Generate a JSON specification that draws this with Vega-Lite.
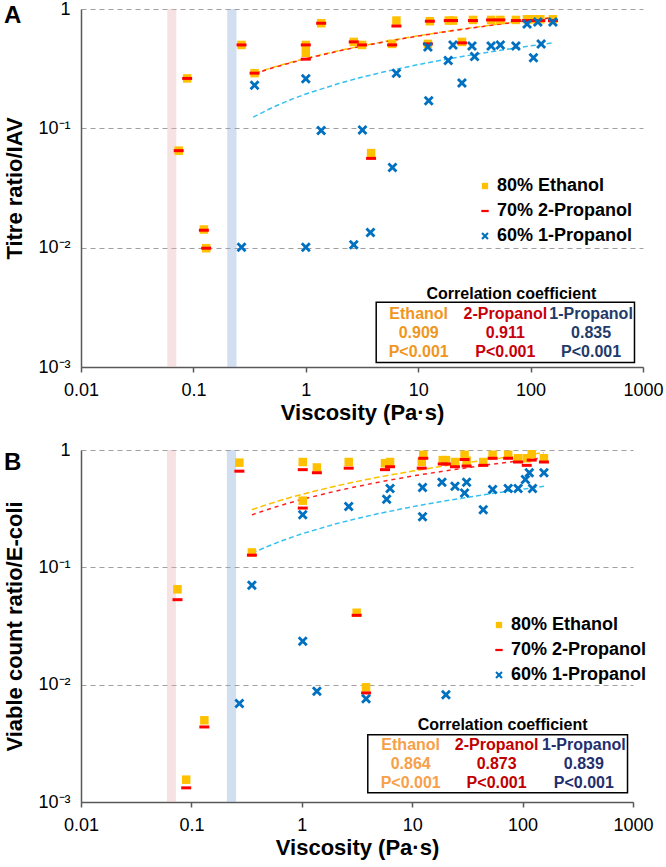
{
  "$schema": "https://vega.github.io/schema/vega-lite/v6.json",
  "padding": {"left": 3, "top": 0, "right": 3, "bottom": 3},
  "config": {
    "font": "Liberation Sans",
    "view": {"stroke": null},
    "axis": {"domainColor": "#595959", "domainWidth": 1.5, "labelColor": "#000000", "titleColor": "#000000", "labelFont": "Liberation Sans", "titleFont": "Liberation Sans"},
    "title": {"font": "Liberation Sans"},
    "legend": {"labelFont": "Liberation Sans"}
  },
  "resolve": {"scale": {"color": "independent", "shape": "independent"}, "legend": {"color": "independent", "shape": "independent"}},
  "datasets": {
    "pointsA": [
      {"v": 0.074, "r": 0.065, "series": "80% Ethanol"},
      {"v": 0.088, "r": 0.262, "series": "80% Ethanol"},
      {"v": 0.124, "r": 0.0142, "series": "80% Ethanol"},
      {"v": 0.13, "r": 0.0099, "series": "80% Ethanol"},
      {"v": 0.268, "r": 0.5, "series": "80% Ethanol"},
      {"v": 0.35, "r": 0.29, "series": "80% Ethanol"},
      {"v": 1.0, "r": 0.5, "series": "80% Ethanol"},
      {"v": 1.0, "r": 0.43, "series": "80% Ethanol"},
      {"v": 1.37, "r": 0.76, "series": "80% Ethanol"},
      {"v": 2.67, "r": 0.53, "series": "80% Ethanol"},
      {"v": 3.17, "r": 0.5, "series": "80% Ethanol"},
      {"v": 3.81, "r": 0.062, "series": "80% Ethanol"},
      {"v": 5.86, "r": 0.51, "series": "80% Ethanol"},
      {"v": 6.4, "r": 0.8, "series": "80% Ethanol"},
      {"v": 12.2, "r": 0.51, "series": "80% Ethanol"},
      {"v": 12.7, "r": 0.79, "series": "80% Ethanol"},
      {"v": 18.7, "r": 0.8, "series": "80% Ethanol"},
      {"v": 20.4, "r": 0.8, "series": "80% Ethanol"},
      {"v": 24.5, "r": 0.53, "series": "80% Ethanol"},
      {"v": 30.7, "r": 0.81, "series": "80% Ethanol"},
      {"v": 44.5, "r": 0.81, "series": "80% Ethanol"},
      {"v": 53.8, "r": 0.81, "series": "80% Ethanol"},
      {"v": 74, "r": 0.81, "series": "80% Ethanol"},
      {"v": 92.9, "r": 0.82, "series": "80% Ethanol"},
      {"v": 105, "r": 0.82, "series": "80% Ethanol"},
      {"v": 122, "r": 0.82, "series": "80% Ethanol"},
      {"v": 158, "r": 0.82, "series": "80% Ethanol"},
      {"v": 0.074, "r": 0.065, "series": "70% 2-Propanol"},
      {"v": 0.088, "r": 0.262, "series": "70% 2-Propanol"},
      {"v": 0.124, "r": 0.014, "series": "70% 2-Propanol"},
      {"v": 0.13, "r": 0.0099, "series": "70% 2-Propanol"},
      {"v": 0.268, "r": 0.5, "series": "70% 2-Propanol"},
      {"v": 0.35, "r": 0.29, "series": "70% 2-Propanol"},
      {"v": 1.0, "r": 0.5, "series": "70% 2-Propanol"},
      {"v": 1.0, "r": 0.38, "series": "70% 2-Propanol"},
      {"v": 1.37, "r": 0.76, "series": "70% 2-Propanol"},
      {"v": 2.67, "r": 0.53, "series": "70% 2-Propanol"},
      {"v": 3.17, "r": 0.5, "series": "70% 2-Propanol"},
      {"v": 3.81, "r": 0.056, "series": "70% 2-Propanol"},
      {"v": 5.86, "r": 0.5, "series": "70% 2-Propanol"},
      {"v": 6.4, "r": 0.72, "series": "70% 2-Propanol"},
      {"v": 12.2, "r": 0.51, "series": "70% 2-Propanol"},
      {"v": 12.7, "r": 0.79, "series": "70% 2-Propanol"},
      {"v": 18.7, "r": 0.8, "series": "70% 2-Propanol"},
      {"v": 20.4, "r": 0.8, "series": "70% 2-Propanol"},
      {"v": 24.5, "r": 0.52, "series": "70% 2-Propanol"},
      {"v": 30.7, "r": 0.8, "series": "70% 2-Propanol"},
      {"v": 44.5, "r": 0.81, "series": "70% 2-Propanol"},
      {"v": 53.8, "r": 0.81, "series": "70% 2-Propanol"},
      {"v": 74, "r": 0.8, "series": "70% 2-Propanol"},
      {"v": 92.9, "r": 0.8, "series": "70% 2-Propanol"},
      {"v": 105, "r": 0.8, "series": "70% 2-Propanol"},
      {"v": 122, "r": 0.8, "series": "70% 2-Propanol"},
      {"v": 158, "r": 0.8, "series": "70% 2-Propanol"},
      {"v": 0.268, "r": 0.0101, "series": "60% 1-Propanol"},
      {"v": 0.35, "r": 0.23, "series": "60% 1-Propanol"},
      {"v": 1.0, "r": 0.26, "series": "60% 1-Propanol"},
      {"v": 1.0, "r": 0.0101, "series": "60% 1-Propanol"},
      {"v": 1.37, "r": 0.096, "series": "60% 1-Propanol"},
      {"v": 2.67, "r": 0.0106, "series": "60% 1-Propanol"},
      {"v": 3.19, "r": 0.097, "series": "60% 1-Propanol"},
      {"v": 3.76, "r": 0.0134, "series": "60% 1-Propanol"},
      {"v": 5.9, "r": 0.047, "series": "60% 1-Propanol"},
      {"v": 6.4, "r": 0.29, "series": "60% 1-Propanol"},
      {"v": 12.2, "r": 0.48, "series": "60% 1-Propanol"},
      {"v": 12.4, "r": 0.17, "series": "60% 1-Propanol"},
      {"v": 18.5, "r": 0.37, "series": "60% 1-Propanol"},
      {"v": 20.4, "r": 0.5, "series": "60% 1-Propanol"},
      {"v": 24.5, "r": 0.24, "series": "60% 1-Propanol"},
      {"v": 30.1, "r": 0.49, "series": "60% 1-Propanol"},
      {"v": 31.7, "r": 0.4, "series": "60% 1-Propanol"},
      {"v": 44.5, "r": 0.49, "series": "60% 1-Propanol"},
      {"v": 53.8, "r": 0.5, "series": "60% 1-Propanol"},
      {"v": 74, "r": 0.49, "series": "60% 1-Propanol"},
      {"v": 92.9, "r": 0.75, "series": "60% 1-Propanol"},
      {"v": 106, "r": 0.39, "series": "60% 1-Propanol"},
      {"v": 116, "r": 0.78, "series": "60% 1-Propanol"},
      {"v": 124, "r": 0.51, "series": "60% 1-Propanol"},
      {"v": 158, "r": 0.78, "series": "60% 1-Propanol"}
    ],
    "pointsB": [
      {"v": 0.0748, "r": 0.065, "series": "80% Ethanol"},
      {"v": 0.0897, "r": 0.00155, "series": "80% Ethanol"},
      {"v": 0.131, "r": 0.00497, "series": "80% Ethanol"},
      {"v": 0.272, "r": 0.78, "series": "80% Ethanol"},
      {"v": 0.353, "r": 0.134, "series": "80% Ethanol"},
      {"v": 1.02, "r": 0.79, "series": "80% Ethanol"},
      {"v": 1.02, "r": 0.37, "series": "80% Ethanol"},
      {"v": 1.37, "r": 0.71, "series": "80% Ethanol"},
      {"v": 2.66, "r": 0.79, "series": "80% Ethanol"},
      {"v": 3.14, "r": 0.041, "series": "80% Ethanol"},
      {"v": 3.82, "r": 0.0095, "series": "80% Ethanol"},
      {"v": 5.67, "r": 0.77, "series": "80% Ethanol"},
      {"v": 6.3, "r": 0.79, "series": "80% Ethanol"},
      {"v": 12.2, "r": 0.79, "series": "80% Ethanol"},
      {"v": 12.6, "r": 0.91, "series": "80% Ethanol"},
      {"v": 18.9, "r": 0.82, "series": "80% Ethanol"},
      {"v": 20.2, "r": 0.82, "series": "80% Ethanol"},
      {"v": 24.4, "r": 0.79, "series": "80% Ethanol"},
      {"v": 29.8, "r": 0.91, "series": "80% Ethanol"},
      {"v": 31.1, "r": 0.81, "series": "80% Ethanol"},
      {"v": 44, "r": 0.79, "series": "80% Ethanol"},
      {"v": 53.5, "r": 0.91, "series": "80% Ethanol"},
      {"v": 74, "r": 0.91, "series": "80% Ethanol"},
      {"v": 91, "r": 0.85, "series": "80% Ethanol"},
      {"v": 109, "r": 0.85, "series": "80% Ethanol"},
      {"v": 121, "r": 0.92, "series": "80% Ethanol"},
      {"v": 156, "r": 0.85, "series": "80% Ethanol"},
      {"v": 0.0748, "r": 0.053, "series": "70% 2-Propanol"},
      {"v": 0.0897, "r": 0.00132, "series": "70% 2-Propanol"},
      {"v": 0.131, "r": 0.00436, "series": "70% 2-Propanol"},
      {"v": 0.272, "r": 0.66, "series": "70% 2-Propanol"},
      {"v": 0.353, "r": 0.127, "series": "70% 2-Propanol"},
      {"v": 1.02, "r": 0.68, "series": "70% 2-Propanol"},
      {"v": 1.02, "r": 0.32, "series": "70% 2-Propanol"},
      {"v": 1.37, "r": 0.64, "series": "70% 2-Propanol"},
      {"v": 2.66, "r": 0.7, "series": "70% 2-Propanol"},
      {"v": 3.14, "r": 0.039, "series": "70% 2-Propanol"},
      {"v": 3.82, "r": 0.0085, "series": "70% 2-Propanol"},
      {"v": 5.67, "r": 0.68, "series": "70% 2-Propanol"},
      {"v": 6.3, "r": 0.72, "series": "70% 2-Propanol"},
      {"v": 12.2, "r": 0.7, "series": "70% 2-Propanol"},
      {"v": 12.6, "r": 0.85, "series": "70% 2-Propanol"},
      {"v": 18.9, "r": 0.76, "series": "70% 2-Propanol"},
      {"v": 20.2, "r": 0.76, "series": "70% 2-Propanol"},
      {"v": 24.4, "r": 0.72, "series": "70% 2-Propanol"},
      {"v": 29.8, "r": 0.83, "series": "70% 2-Propanol"},
      {"v": 31.1, "r": 0.73, "series": "70% 2-Propanol"},
      {"v": 44, "r": 0.74, "series": "70% 2-Propanol"},
      {"v": 53.5, "r": 0.85, "series": "70% 2-Propanol"},
      {"v": 74, "r": 0.85, "series": "70% 2-Propanol"},
      {"v": 91, "r": 0.79, "series": "70% 2-Propanol"},
      {"v": 109, "r": 0.74, "series": "70% 2-Propanol"},
      {"v": 121, "r": 0.82, "series": "70% 2-Propanol"},
      {"v": 156, "r": 0.79, "series": "70% 2-Propanol"},
      {"v": 0.272, "r": 0.0069, "series": "60% 1-Propanol"},
      {"v": 0.353, "r": 0.0705, "series": "60% 1-Propanol"},
      {"v": 1.02, "r": 0.28, "series": "60% 1-Propanol"},
      {"v": 1.02, "r": 0.0234, "series": "60% 1-Propanol"},
      {"v": 1.37, "r": 0.0088, "series": "60% 1-Propanol"},
      {"v": 2.66, "r": 0.33, "series": "60% 1-Propanol"},
      {"v": 3.82, "r": 0.0076, "series": "60% 1-Propanol"},
      {"v": 5.87, "r": 0.38, "series": "60% 1-Propanol"},
      {"v": 6.3, "r": 0.47, "series": "60% 1-Propanol"},
      {"v": 12.4, "r": 0.48, "series": "60% 1-Propanol"},
      {"v": 12.4, "r": 0.27, "series": "60% 1-Propanol"},
      {"v": 18.6, "r": 0.53, "series": "60% 1-Propanol"},
      {"v": 20.2, "r": 0.0082, "series": "60% 1-Propanol"},
      {"v": 24.4, "r": 0.49, "series": "60% 1-Propanol"},
      {"v": 29.8, "r": 0.43, "series": "60% 1-Propanol"},
      {"v": 31.1, "r": 0.53, "series": "60% 1-Propanol"},
      {"v": 44, "r": 0.31, "series": "60% 1-Propanol"},
      {"v": 53.5, "r": 0.46, "series": "60% 1-Propanol"},
      {"v": 74, "r": 0.47, "series": "60% 1-Propanol"},
      {"v": 91, "r": 0.47, "series": "60% 1-Propanol"},
      {"v": 106, "r": 0.56, "series": "60% 1-Propanol"},
      {"v": 115, "r": 0.64, "series": "60% 1-Propanol"},
      {"v": 123, "r": 0.47, "series": "60% 1-Propanol"},
      {"v": 156, "r": 0.64, "series": "60% 1-Propanol"}
    ],
    "fitA": [
      {"v": 0.35, "r": 0.29, "series": "Ethanol"},
      {"v": 0.5, "r": 0.3225, "series": "Ethanol"},
      {"v": 0.7, "r": 0.3533, "series": "Ethanol"},
      {"v": 1, "r": 0.386, "series": "Ethanol"},
      {"v": 2, "r": 0.4495, "series": "Ethanol"},
      {"v": 3, "r": 0.4866, "series": "Ethanol"},
      {"v": 5, "r": 0.5334, "series": "Ethanol"},
      {"v": 10, "r": 0.5969, "series": "Ethanol"},
      {"v": 20, "r": 0.6604, "series": "Ethanol"},
      {"v": 50, "r": 0.7443, "series": "Ethanol"},
      {"v": 100, "r": 0.8078, "series": "Ethanol"},
      {"v": 158, "r": 0.8497, "series": "Ethanol"},
      {"v": 0.35, "r": 0.287, "series": "2-Propanol"},
      {"v": 0.5, "r": 0.32, "series": "2-Propanol"},
      {"v": 0.7, "r": 0.35, "series": "2-Propanol"},
      {"v": 1, "r": 0.383, "series": "2-Propanol"},
      {"v": 2, "r": 0.446, "series": "2-Propanol"},
      {"v": 3, "r": 0.484, "series": "2-Propanol"},
      {"v": 5, "r": 0.53, "series": "2-Propanol"},
      {"v": 10, "r": 0.594, "series": "2-Propanol"},
      {"v": 20, "r": 0.657, "series": "2-Propanol"},
      {"v": 50, "r": 0.741, "series": "2-Propanol"},
      {"v": 100, "r": 0.804, "series": "2-Propanol"},
      {"v": 158, "r": 0.846, "series": "2-Propanol"},
      {"v": 0.34, "r": 0.124, "series": "1-Propanol"},
      {"v": 0.5, "r": 0.149, "series": "1-Propanol"},
      {"v": 0.7, "r": 0.171, "series": "1-Propanol"},
      {"v": 1, "r": 0.194, "series": "1-Propanol"},
      {"v": 2, "r": 0.2387, "series": "1-Propanol"},
      {"v": 3, "r": 0.2649, "series": "1-Propanol"},
      {"v": 5, "r": 0.2978, "series": "1-Propanol"},
      {"v": 10, "r": 0.3425, "series": "1-Propanol"},
      {"v": 20, "r": 0.3872, "series": "1-Propanol"},
      {"v": 50, "r": 0.4463, "series": "1-Propanol"},
      {"v": 100, "r": 0.491, "series": "1-Propanol"},
      {"v": 158, "r": 0.5205, "series": "1-Propanol"}
    ],
    "fitB": [
      {"v": 0.353, "r": 0.31, "series": "Ethanol"},
      {"v": 0.5, "r": 0.346, "series": "Ethanol"},
      {"v": 0.7, "r": 0.3815, "series": "Ethanol"},
      {"v": 1, "r": 0.419, "series": "Ethanol"},
      {"v": 2, "r": 0.4918, "series": "Ethanol"},
      {"v": 3, "r": 0.5344, "series": "Ethanol"},
      {"v": 5, "r": 0.588, "series": "Ethanol"},
      {"v": 10, "r": 0.6608, "series": "Ethanol"},
      {"v": 20, "r": 0.7336, "series": "Ethanol"},
      {"v": 50, "r": 0.8298, "series": "Ethanol"},
      {"v": 100, "r": 0.9025, "series": "Ethanol"},
      {"v": 156, "r": 0.949, "series": "Ethanol"},
      {"v": 0.353, "r": 0.28, "series": "2-Propanol"},
      {"v": 0.5, "r": 0.313, "series": "2-Propanol"},
      {"v": 0.7, "r": 0.345, "series": "2-Propanol"},
      {"v": 1, "r": 0.379, "series": "2-Propanol"},
      {"v": 2, "r": 0.445, "series": "2-Propanol"},
      {"v": 3, "r": 0.4836, "series": "2-Propanol"},
      {"v": 5, "r": 0.5322, "series": "2-Propanol"},
      {"v": 10, "r": 0.6002, "series": "2-Propanol"},
      {"v": 20, "r": 0.6642, "series": "2-Propanol"},
      {"v": 50, "r": 0.7514, "series": "2-Propanol"},
      {"v": 100, "r": 0.8174, "series": "2-Propanol"},
      {"v": 156, "r": 0.8598, "series": "2-Propanol"},
      {"v": 0.353, "r": 0.132, "series": "1-Propanol"},
      {"v": 0.5, "r": 0.152, "series": "1-Propanol"},
      {"v": 0.7, "r": 0.172, "series": "1-Propanol"},
      {"v": 1, "r": 0.193, "series": "1-Propanol"},
      {"v": 2, "r": 0.2338, "series": "1-Propanol"},
      {"v": 3, "r": 0.2576, "series": "1-Propanol"},
      {"v": 5, "r": 0.2876, "series": "1-Propanol"},
      {"v": 10, "r": 0.3284, "series": "1-Propanol"},
      {"v": 20, "r": 0.3691, "series": "1-Propanol"},
      {"v": 50, "r": 0.423, "series": "1-Propanol"},
      {"v": 100, "r": 0.4638, "series": "1-Propanol"},
      {"v": 156, "r": 0.4899, "series": "1-Propanol"}
    ],
    "bandsA": [
      {"v": 0.0586, "v2": 0.0705, "band": "pink"},
      {"v": 0.2, "v2": 0.242, "band": "blue"}
    ],
    "bandsB": [
      {"v": 0.06, "v2": 0.0724, "band": "pink"},
      {"v": 0.2095, "v2": 0.254, "band": "blue"}
    ],
    "boxA": [{"v": 4.23, "v2": 840, "r": 0.00109, "r2": 0.00348}],
    "boxB": [{"v": 3.96, "v2": 892, "r": 0.0012, "r2": 0.00375}],
    "tableA": [
      {"v": 67.5, "r": 0.00408, "text": "Correlation coefficient", "col": "title"},
      {"v": 10.1, "r": 0.00278, "text": "Ethanol", "col": "Ethanol"},
      {"v": 59.6, "r": 0.00278, "text": "2-Propanol", "col": "2-Propanol"},
      {"v": 345, "r": 0.00278, "text": "1-Propanol", "col": "1-Propanol"},
      {"v": 10.1, "r": 0.00192, "text": "0.909", "col": "Ethanol"},
      {"v": 59.6, "r": 0.00192, "text": "0.911", "col": "2-Propanol"},
      {"v": 345, "r": 0.00192, "text": "0.835", "col": "1-Propanol"},
      {"v": 10.1, "r": 0.00133, "text": "P<0.001", "col": "Ethanol"},
      {"v": 59.6, "r": 0.00133, "text": "P<0.001", "col": "2-Propanol"},
      {"v": 345, "r": 0.00133, "text": "P<0.001", "col": "1-Propanol"}
    ],
    "tableB": [
      {"v": 65.9, "r": 0.00457, "text": "Correlation coefficient", "col": "title"},
      {"v": 9.69, "r": 0.00304, "text": "Ethanol", "col": "Ethanol"},
      {"v": 58.2, "r": 0.00304, "text": "2-Propanol", "col": "2-Propanol"},
      {"v": 359, "r": 0.00304, "text": "1-Propanol", "col": "1-Propanol"},
      {"v": 9.69, "r": 0.00209, "text": "0.864", "col": "Ethanol"},
      {"v": 58.2, "r": 0.00209, "text": "0.873", "col": "2-Propanol"},
      {"v": 359, "r": 0.00209, "text": "0.839", "col": "1-Propanol"},
      {"v": 9.69, "r": 0.00144, "text": "P<0.001", "col": "Ethanol"},
      {"v": 58.2, "r": 0.00144, "text": "P<0.001", "col": "2-Propanol"},
      {"v": 359, "r": 0.00144, "text": "P<0.001", "col": "1-Propanol"}
    ]
  },
  "spacing": 18,
  "vconcat": [
    {
      "width": 562,
      "height": 358,
      "title": {"text": "A", "anchor": "start", "frame": "bounds", "fontSize": 24, "fontWeight": "bold", "color": "#000000", "offset": 0, "dy": 28},
      "layer": [
        {
          "data": {"name": "pointsA"},
          "mark": {"type": "point", "filled": true, "opacity": 0, "size": 100, "strokeWidth": 0},
          "encoding": {
            "x": {"field": "v", "type": "quantitative", "scale": {"type": "log", "domain": [0.01, 1000], "nice": false},
              "axis": {"values": [0.01, 0.1, 1, 10, 100, 1000], "format": "~g", "labelFlush": false, "title": "Viscosity (Pa·s)", "titleFontSize": 22, "titleFontWeight": "bold", "labelFontSize": 18, "labelPadding": 9, "tickSize": 5, "tickColor": "#595959", "tickWidth": 1.5, "grid": false, "titlePadding": 3}},
            "y": {"field": "r", "type": "quantitative", "scale": {"type": "log", "domain": [0.001, 1], "nice": false},
              "axis": {"values": [0.001, 0.01, 0.1, 1], "labelExpr": "datum.value > 0.5 ? '1' : datum.value > 0.05 ? '10⁻¹' : datum.value > 0.005 ? '10⁻²' : '10⁻³'", "title": "Titre ratio/IAV", "titleFontSize": 22, "titleFontWeight": "bold", "labelFontSize": 18, "labelPadding": 11, "ticks": false, "grid": true, "gridColor": "#A0A0A0", "gridDash": [5, 4], "gridWidth": 1.2, "titlePadding": 11}},
            "color": {"field": "series", "type": "nominal", "scale": {"domain": ["80% Ethanol", "70% 2-Propanol", "60% 1-Propanol"], "range": ["#FFC000", "#FF0000", "#0070C0"]},
              "legend": {"title": null, "orient": "none", "legendX": 395, "legendY": 168, "labelFontSize": 18, "labelFontWeight": "bold", "symbolSize": 55, "symbolOpacity": 1, "rowPadding": 7, "labelOffset": 3}},
            "shape": {"field": "series", "type": "nominal", "scale": {"domain": ["80% Ethanol", "70% 2-Propanol", "60% 1-Propanol"], "range": ["M-0.85,-0.85L0.85,-0.85L0.85,0.85L-0.85,0.85Z", "M-1,-0.3L1,-0.3L1,0.3L-1,0.3Z", "M-1,-0.6L-0.6,-1L0,-0.4L0.6,-1L1,-0.6L0.4,0L1,0.6L0.6,1L0,0.4L-0.6,1L-1,0.6L-0.4,0Z"]},
              "legend": {"title": null, "orient": "none", "legendX": 395, "legendY": 168, "labelFontSize": 18, "labelFontWeight": "bold", "symbolSize": 55, "symbolOpacity": 1, "rowPadding": 7, "labelOffset": 3}}
          }
        },
        {
          "data": {"name": "bandsA"},
          "transform": [{"filter": "datum.band == 'pink'"}],
          "mark": {"type": "rect", "color": "#E8B4B4", "opacity": 0.38},
          "encoding": {"x": {"field": "v", "type": "quantitative"}, "x2": {"field": "v2"}}
        },
        {
          "data": {"name": "bandsA"},
          "transform": [{"filter": "datum.band == 'blue'"}],
          "mark": {"type": "rect", "color": "#8FB0DC", "opacity": 0.4},
          "encoding": {"x": {"field": "v", "type": "quantitative"}, "x2": {"field": "v2"}}
        },
        {
          "data": {"name": "fitA"},
          "transform": [{"filter": "datum.series == 'Ethanol'"}],
          "mark": {"type": "line", "strokeDash": [6, 3], "strokeWidth": 1.5, "color": "#FFC000"},
          "encoding": {"x": {"field": "v", "type": "quantitative"}, "y": {"field": "r", "type": "quantitative"}}
        },
        {
          "data": {"name": "fitA"},
          "transform": [{"filter": "datum.series == '2-Propanol'"}],
          "mark": {"type": "line", "strokeDash": [4, 4], "strokeWidth": 1.5, "color": "#FF2020"},
          "encoding": {"x": {"field": "v", "type": "quantitative"}, "y": {"field": "r", "type": "quantitative"}}
        },
        {
          "data": {"name": "fitA"},
          "transform": [{"filter": "datum.series == '1-Propanol'"}],
          "mark": {"type": "line", "strokeDash": [5, 3], "strokeWidth": 1.5, "color": "#35C0F0"},
          "encoding": {"x": {"field": "v", "type": "quantitative"}, "y": {"field": "r", "type": "quantitative"}}
        },
        {
          "data": {"name": "pointsA"},
          "mark": {"type": "point", "filled": true, "opacity": 1, "size": 100, "strokeWidth": 0},
          "encoding": {
            "x": {"field": "v", "type": "quantitative"},
            "y": {"field": "r", "type": "quantitative"},
            "color": {"field": "series", "type": "nominal"},
            "shape": {"field": "series", "type": "nominal"}
          }
        },
        {
          "data": {"name": "boxA"},
          "mark": {"type": "rect", "fill": null, "fillOpacity": 0, "stroke": "#000000", "strokeWidth": 1.5},
          "encoding": {
            "x": {"field": "v", "type": "quantitative"},
            "x2": {"field": "v2"},
            "y": {"field": "r", "type": "quantitative"},
            "y2": {"field": "r2"}
          }
        },
        {
          "data": {"name": "tableA"},
          "transform": [{"filter": "datum.col == 'title'"}],
          "mark": {"type": "text", "fontSize": 16, "fontWeight": "bold", "align": "center", "baseline": "middle", "color": "#000000"},
          "encoding": {"x": {"field": "v", "type": "quantitative"}, "y": {"field": "r", "type": "quantitative"}, "text": {"field": "text"}}
        },
        {
          "data": {"name": "tableA"},
          "transform": [{"filter": "datum.col == 'Ethanol'"}],
          "mark": {"type": "text", "fontSize": 16, "fontWeight": "bold", "align": "center", "baseline": "middle", "color": "#F0961E"},
          "encoding": {"x": {"field": "v", "type": "quantitative"}, "y": {"field": "r", "type": "quantitative"}, "text": {"field": "text"}}
        },
        {
          "data": {"name": "tableA"},
          "transform": [{"filter": "datum.col == '2-Propanol'"}],
          "mark": {"type": "text", "fontSize": 16, "fontWeight": "bold", "align": "center", "baseline": "middle", "color": "#C8000A"},
          "encoding": {"x": {"field": "v", "type": "quantitative"}, "y": {"field": "r", "type": "quantitative"}, "text": {"field": "text"}}
        },
        {
          "data": {"name": "tableA"},
          "transform": [{"filter": "datum.col == '1-Propanol'"}],
          "mark": {"type": "text", "fontSize": 16, "fontWeight": "bold", "align": "center", "baseline": "middle", "color": "#1F3B6B"},
          "encoding": {"x": {"field": "v", "type": "quantitative"}, "y": {"field": "r", "type": "quantitative"}, "text": {"field": "text"}}
        }
      ]
    },
    {
      "width": 552,
      "height": 352,
      "title": {"text": "B", "anchor": "start", "frame": "bounds", "fontSize": 24, "fontWeight": "bold", "color": "#000000", "offset": 0, "dy": 34},
      "layer": [
        {
          "data": {"name": "pointsB"},
          "mark": {"type": "point", "filled": true, "opacity": 0, "size": 100, "strokeWidth": 0},
          "encoding": {
            "x": {"field": "v", "type": "quantitative", "scale": {"type": "log", "domain": [0.01, 1000], "nice": false},
              "axis": {"values": [0.01, 0.1, 1, 10, 100, 1000], "format": "~g", "labelFlush": false, "title": "Viscosity (Pa·s)", "titleFontSize": 22, "titleFontWeight": "bold", "labelFontSize": 18, "labelPadding": 9, "tickSize": 5, "tickColor": "#595959", "tickWidth": 1.5, "grid": false, "titlePadding": 3}},
            "y": {"field": "r", "type": "quantitative", "scale": {"type": "log", "domain": [0.001, 1], "nice": false},
              "axis": {"values": [0.001, 0.01, 0.1, 1], "labelExpr": "datum.value > 0.5 ? '1' : datum.value > 0.05 ? '10⁻¹' : datum.value > 0.005 ? '10⁻²' : '10⁻³'", "title": "Viable count ratio/E-coli", "titleFontSize": 22, "titleFontWeight": "bold", "labelFontSize": 18, "labelPadding": 11, "ticks": false, "grid": true, "gridColor": "#A0A0A0", "gridDash": [5, 4], "gridWidth": 1.2, "titlePadding": 11}},
            "color": {"field": "series", "type": "nominal", "scale": {"domain": ["80% Ethanol", "70% 2-Propanol", "60% 1-Propanol"], "range": ["#FFC000", "#FF0000", "#0070C0"]},
              "legend": {"title": null, "orient": "none", "legendX": 409, "legendY": 166, "labelFontSize": 18, "labelFontWeight": "bold", "symbolSize": 55, "symbolOpacity": 1, "rowPadding": 7, "labelOffset": 3}},
            "shape": {"field": "series", "type": "nominal", "scale": {"domain": ["80% Ethanol", "70% 2-Propanol", "60% 1-Propanol"], "range": ["M-0.85,-0.85L0.85,-0.85L0.85,0.85L-0.85,0.85Z", "M-1,-0.3L1,-0.3L1,0.3L-1,0.3Z", "M-1,-0.6L-0.6,-1L0,-0.4L0.6,-1L1,-0.6L0.4,0L1,0.6L0.6,1L0,0.4L-0.6,1L-1,0.6L-0.4,0Z"]},
              "legend": {"title": null, "orient": "none", "legendX": 409, "legendY": 166, "labelFontSize": 18, "labelFontWeight": "bold", "symbolSize": 55, "symbolOpacity": 1, "rowPadding": 7, "labelOffset": 3}}
          }
        },
        {
          "data": {"name": "bandsB"},
          "transform": [{"filter": "datum.band == 'pink'"}],
          "mark": {"type": "rect", "color": "#E8B4B4", "opacity": 0.38},
          "encoding": {"x": {"field": "v", "type": "quantitative"}, "x2": {"field": "v2"}}
        },
        {
          "data": {"name": "bandsB"},
          "transform": [{"filter": "datum.band == 'blue'"}],
          "mark": {"type": "rect", "color": "#8FB0DC", "opacity": 0.4},
          "encoding": {"x": {"field": "v", "type": "quantitative"}, "x2": {"field": "v2"}}
        },
        {
          "data": {"name": "fitB"},
          "transform": [{"filter": "datum.series == 'Ethanol'"}],
          "mark": {"type": "line", "strokeDash": [6, 3], "strokeWidth": 1.5, "color": "#FFC000"},
          "encoding": {"x": {"field": "v", "type": "quantitative"}, "y": {"field": "r", "type": "quantitative"}}
        },
        {
          "data": {"name": "fitB"},
          "transform": [{"filter": "datum.series == '2-Propanol'"}],
          "mark": {"type": "line", "strokeDash": [4, 4], "strokeWidth": 1.5, "color": "#FF2020"},
          "encoding": {"x": {"field": "v", "type": "quantitative"}, "y": {"field": "r", "type": "quantitative"}}
        },
        {
          "data": {"name": "fitB"},
          "transform": [{"filter": "datum.series == '1-Propanol'"}],
          "mark": {"type": "line", "strokeDash": [5, 3], "strokeWidth": 1.5, "color": "#35C0F0"},
          "encoding": {"x": {"field": "v", "type": "quantitative"}, "y": {"field": "r", "type": "quantitative"}}
        },
        {
          "data": {"name": "pointsB"},
          "mark": {"type": "point", "filled": true, "opacity": 1, "size": 100, "strokeWidth": 0},
          "encoding": {
            "x": {"field": "v", "type": "quantitative"},
            "y": {"field": "r", "type": "quantitative"},
            "color": {"field": "series", "type": "nominal"},
            "shape": {"field": "series", "type": "nominal"}
          }
        },
        {
          "data": {"name": "boxB"},
          "mark": {"type": "rect", "fill": null, "fillOpacity": 0, "stroke": "#000000", "strokeWidth": 1.5},
          "encoding": {
            "x": {"field": "v", "type": "quantitative"},
            "x2": {"field": "v2"},
            "y": {"field": "r", "type": "quantitative"},
            "y2": {"field": "r2"}
          }
        },
        {
          "data": {"name": "tableB"},
          "transform": [{"filter": "datum.col == 'title'"}],
          "mark": {"type": "text", "fontSize": 16, "fontWeight": "bold", "align": "center", "baseline": "middle", "color": "#000000"},
          "encoding": {"x": {"field": "v", "type": "quantitative"}, "y": {"field": "r", "type": "quantitative"}, "text": {"field": "text"}}
        },
        {
          "data": {"name": "tableB"},
          "transform": [{"filter": "datum.col == 'Ethanol'"}],
          "mark": {"type": "text", "fontSize": 16, "fontWeight": "bold", "align": "center", "baseline": "middle", "color": "#F7A04A"},
          "encoding": {"x": {"field": "v", "type": "quantitative"}, "y": {"field": "r", "type": "quantitative"}, "text": {"field": "text"}}
        },
        {
          "data": {"name": "tableB"},
          "transform": [{"filter": "datum.col == '2-Propanol'"}],
          "mark": {"type": "text", "fontSize": 16, "fontWeight": "bold", "align": "center", "baseline": "middle", "color": "#C00000"},
          "encoding": {"x": {"field": "v", "type": "quantitative"}, "y": {"field": "r", "type": "quantitative"}, "text": {"field": "text"}}
        },
        {
          "data": {"name": "tableB"},
          "transform": [{"filter": "datum.col == '1-Propanol'"}],
          "mark": {"type": "text", "fontSize": 16, "fontWeight": "bold", "align": "center", "baseline": "middle", "color": "#1F2F6E"},
          "encoding": {"x": {"field": "v", "type": "quantitative"}, "y": {"field": "r", "type": "quantitative"}, "text": {"field": "text"}}
        }
      ]
    }
  ]
}
